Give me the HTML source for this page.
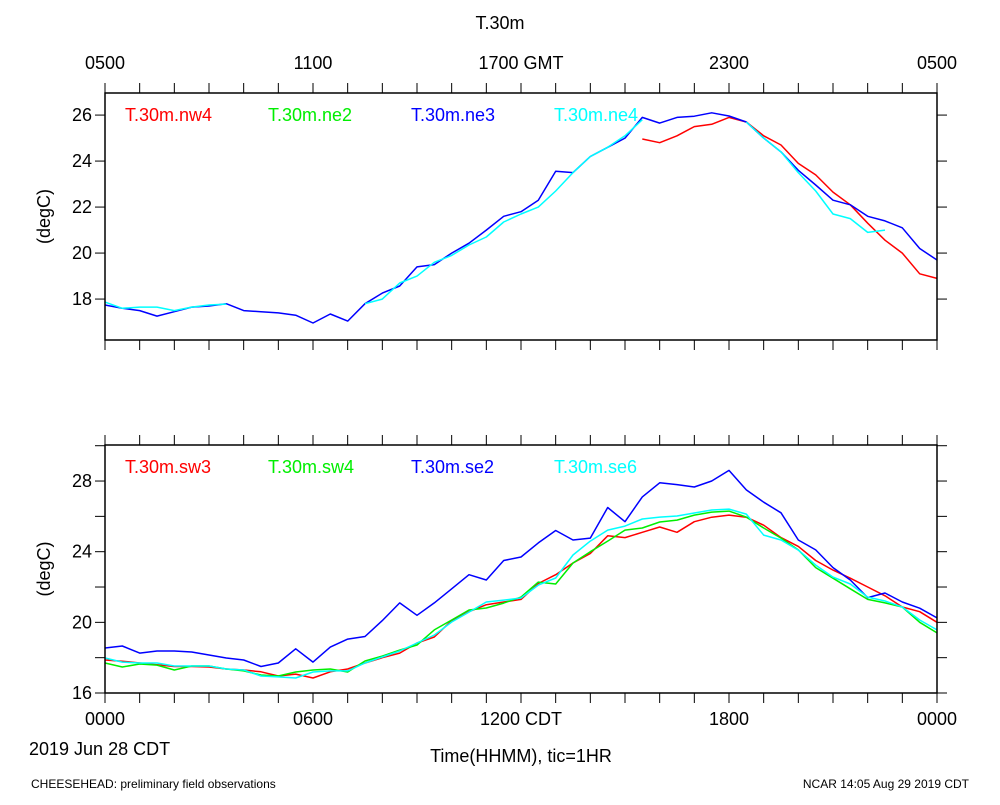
<!DOCTYPE html>
<html><head><meta charset="utf-8"><style>
body{margin:0;background:#fff}
svg text{font-family:"Liberation Sans",sans-serif}
</style></head><body>
<svg id="c" width="1000" height="800" xmlns="http://www.w3.org/2000/svg"></svg>
<script>
const hours = Array.from({length:49},(_,i)=>i*0.5);
const xTickLabelsTop = ["0500","1100","1700 GMT","2300","0500"];
const xTickLabelsBottom = ["0000","0600","1200 CDT","1800","0000"];
const yTicksTop = [18,20,22,24,26];
const yTicksBottom = [16,20,24,28];
const N = null;
const nw4 = [N,N,N,N,N,N,N,N,N,N,N,N,N,N,N,N,N,N,N,N,N,N,N,N,N,N,N,N,N,N,N,24.96,24.8,25.1,25.5,25.6,25.9,25.7,25.1,24.7,23.9,23.4,22.65,22.1,21.3,20.56,20.0,19.1,18.9];
const ne3 = [17.74,17.6,17.5,17.26,17.45,17.65,17.7,17.8,17.5,17.45,17.4,17.3,16.96,17.35,17.04,17.8,18.26,18.57,19.4,19.5,20.0,20.43,21.0,21.6,21.8,22.3,23.56,23.5,24.2,24.6,25.0,25.9,25.65,25.9,25.95,26.1,25.96,25.7,25.0,24.4,23.6,22.96,22.3,22.1,21.6,21.4,21.1,20.2,19.7];
const ne4 = [17.87,17.6,17.65,17.65,17.5,17.65,17.74,17.78,N,N,N,N,N,N,N,17.8,18.0,18.7,19.0,19.6,19.9,20.35,20.7,21.35,21.7,22.0,22.7,23.5,24.2,24.6,25.1,25.8,N,N,N,N,N,25.7,25.0,24.4,23.5,22.7,21.7,21.5,20.9,21.0,N,N,N];
const sw3 = [17.87,17.8,17.7,17.6,17.5,17.5,17.47,17.36,17.3,17.2,16.96,17.07,16.85,17.2,17.36,17.7,18.0,18.26,18.83,19.17,20.1,20.6,21.0,21.15,21.3,22.2,22.7,23.36,23.9,24.9,24.8,25.1,25.4,25.1,25.7,25.95,26.07,25.95,25.5,24.8,24.3,23.5,22.96,22.5,22.0,21.5,20.87,20.6,20.0];
const sw4 = [17.70,17.47,17.64,17.58,17.30,17.53,17.53,17.36,17.25,17.02,16.96,17.19,17.30,17.36,17.19,17.81,18.09,18.43,18.72,19.57,20.13,20.70,20.81,21.09,21.43,22.28,22.17,23.36,24.0,24.6,25.22,25.34,25.68,25.79,26.07,26.24,26.30,25.96,25.34,24.77,24.1,23.1,22.5,21.9,21.3,21.1,20.87,20.0,19.4];
const se2 = [18.55,18.66,18.26,18.38,18.38,18.32,18.15,17.98,17.87,17.5,17.7,18.5,17.75,18.6,19.05,19.2,20.1,21.1,20.4,21.1,21.9,22.7,22.4,23.5,23.7,24.5,25.2,24.66,24.77,26.5,25.7,27.1,27.9,27.8,27.66,28.0,28.6,27.5,26.8,26.2,24.66,24.1,23.1,22.4,21.4,21.66,21.15,20.8,20.25];
const se6 = [17.98,17.75,17.70,17.70,17.53,17.53,17.53,17.36,17.30,16.96,16.91,16.85,17.19,17.25,17.25,17.70,18.04,18.38,18.83,19.28,20.02,20.58,21.15,21.26,21.38,22.11,22.51,23.81,24.60,25.22,25.45,25.85,25.96,26.02,26.19,26.36,26.41,26.13,24.94,24.66,24.09,23.24,22.56,22.17,21.43,21.21,20.87,20.13,19.57];

const svg=document.getElementById('c');
const NS='http://www.w3.org/2000/svg';
function mk(tag,attrs,parent){const e=document.createElementNS(NS,tag);for(const k in attrs)e.setAttribute(k,attrs[k]);(parent||svg).appendChild(e);return e;}
const X0=105,X1=937;
const xs=h=>X0+(X1-X0)*h/24;

function panel(top,bot,ymin,ymax,yticks,series,names,colors,id,topLabels,botLabels){
  const ys=v=>bot-(v-ymin)/(ymax-ymin)*(bot-top);
  const g=mk('g',{});
  
  
  for(let h=0;h<=24;h++){
    const t1=mk('line',{x1:xs(h),x2:xs(h),y1:top-10,y2:top,stroke:'#000','stroke-width':1},g);
    
    
    const t2=mk('line',{x1:xs(h),x2:xs(h),y1:bot,y2:bot+10,stroke:'#000','stroke-width':1},g);
    
    
  }
  for(let v=Math.ceil(ymin/2)*2;v<=ymax;v+=2){
    const y=ys(v);
    const a=mk('line',{x1:X0-10,x2:X0,y1:y,y2:y,stroke:'#000'},g);
    
    
    const b=mk('line',{x1:X1,x2:X1+10,y1:y,y2:y,stroke:'#000'},g);
    
    
  }
  yticks.forEach(v=>{
    const t=mk('text',{x:X0-13,y:ys(v)+6,'text-anchor':'end','font-size':18},g);
    t.textContent=v;
    
    
  });
  const yl=mk('text',{x:0,y:0,'text-anchor':'middle','font-size':18,transform:`translate(50,${(top+bot)/2}) rotate(-90)`},g);
  yl.textContent='(degC)';
  
  
  series.forEach((s,i)=>{
    let d='',pen=false;
    s.forEach((v,j)=>{
      if(v===null){pen=false;return;}
      d+=(pen?'L':'M')+xs(hours[j]).toFixed(1)+' '+ys(v).toFixed(1)+' ';pen=true;
    });
    if(d){
      const p=mk('path',{d:d,fill:'none',stroke:colors[i],'stroke-width':1.5,'stroke-linejoin':'round'},g);
      
      
    }
    const lt=mk('text',{x:125+i*143,y:top+28,'font-size':18,fill:colors[i]},g);
    lt.textContent=names[i];
    
    
  });
  const fr=mk('rect',{x:X0,y:top,width:X1-X0,height:bot-top,fill:'none',stroke:'#000','stroke-width':1.5},g);
  
  
  if(topLabels) topLabels.forEach((l,i)=>{
    const t=mk('text',{x:xs(i*6),y:69,'text-anchor':'middle','font-size':18},g);
    t.textContent=l;
    
    
  });
  if(botLabels) botLabels.forEach((l,i)=>{
    const t=mk('text',{x:xs(i*6),y:725,'text-anchor':'middle','font-size':18},g);
    t.textContent=l;
    
    
  });
}
panel(93,340,16.22,26.96,yTicksTop,[nw4,[],ne3,ne4],['T.30m.nw4','T.30m.ne2','T.30m.ne3','T.30m.ne4'],['#ff0000','#00ee00','#0000ff','#00ffff'],'top',xTickLabelsTop,null);
panel(445,693,16,30.04,yTicksBottom,[sw3,sw4,se2,se6],['T.30m.sw3','T.30m.sw4','T.30m.se2','T.30m.se6'],['#ff0000','#00ee00','#0000ff','#00ffff'],'bottom',null,xTickLabelsBottom);

function txt(x,y,s,size,anchor,name){const t=mk('text',{x:x,y:y,'font-size':size,'text-anchor':anchor});t.textContent=s;}
txt(500,29,'T.30m',18,'middle','chart-title');
txt(29,755,'2019 Jun 28 CDT',18,'start','date-label');
txt(521,762,'Time(HHMM), tic=1HR',18,'middle','x-axis-title');
txt(31,788,'CHEESEHEAD: preliminary field observations',12,'start','footer-left');
txt(969,788,'NCAR 14:05 Aug 29 2019 CDT',12,'end','footer-right');
</script>
</body></html>
